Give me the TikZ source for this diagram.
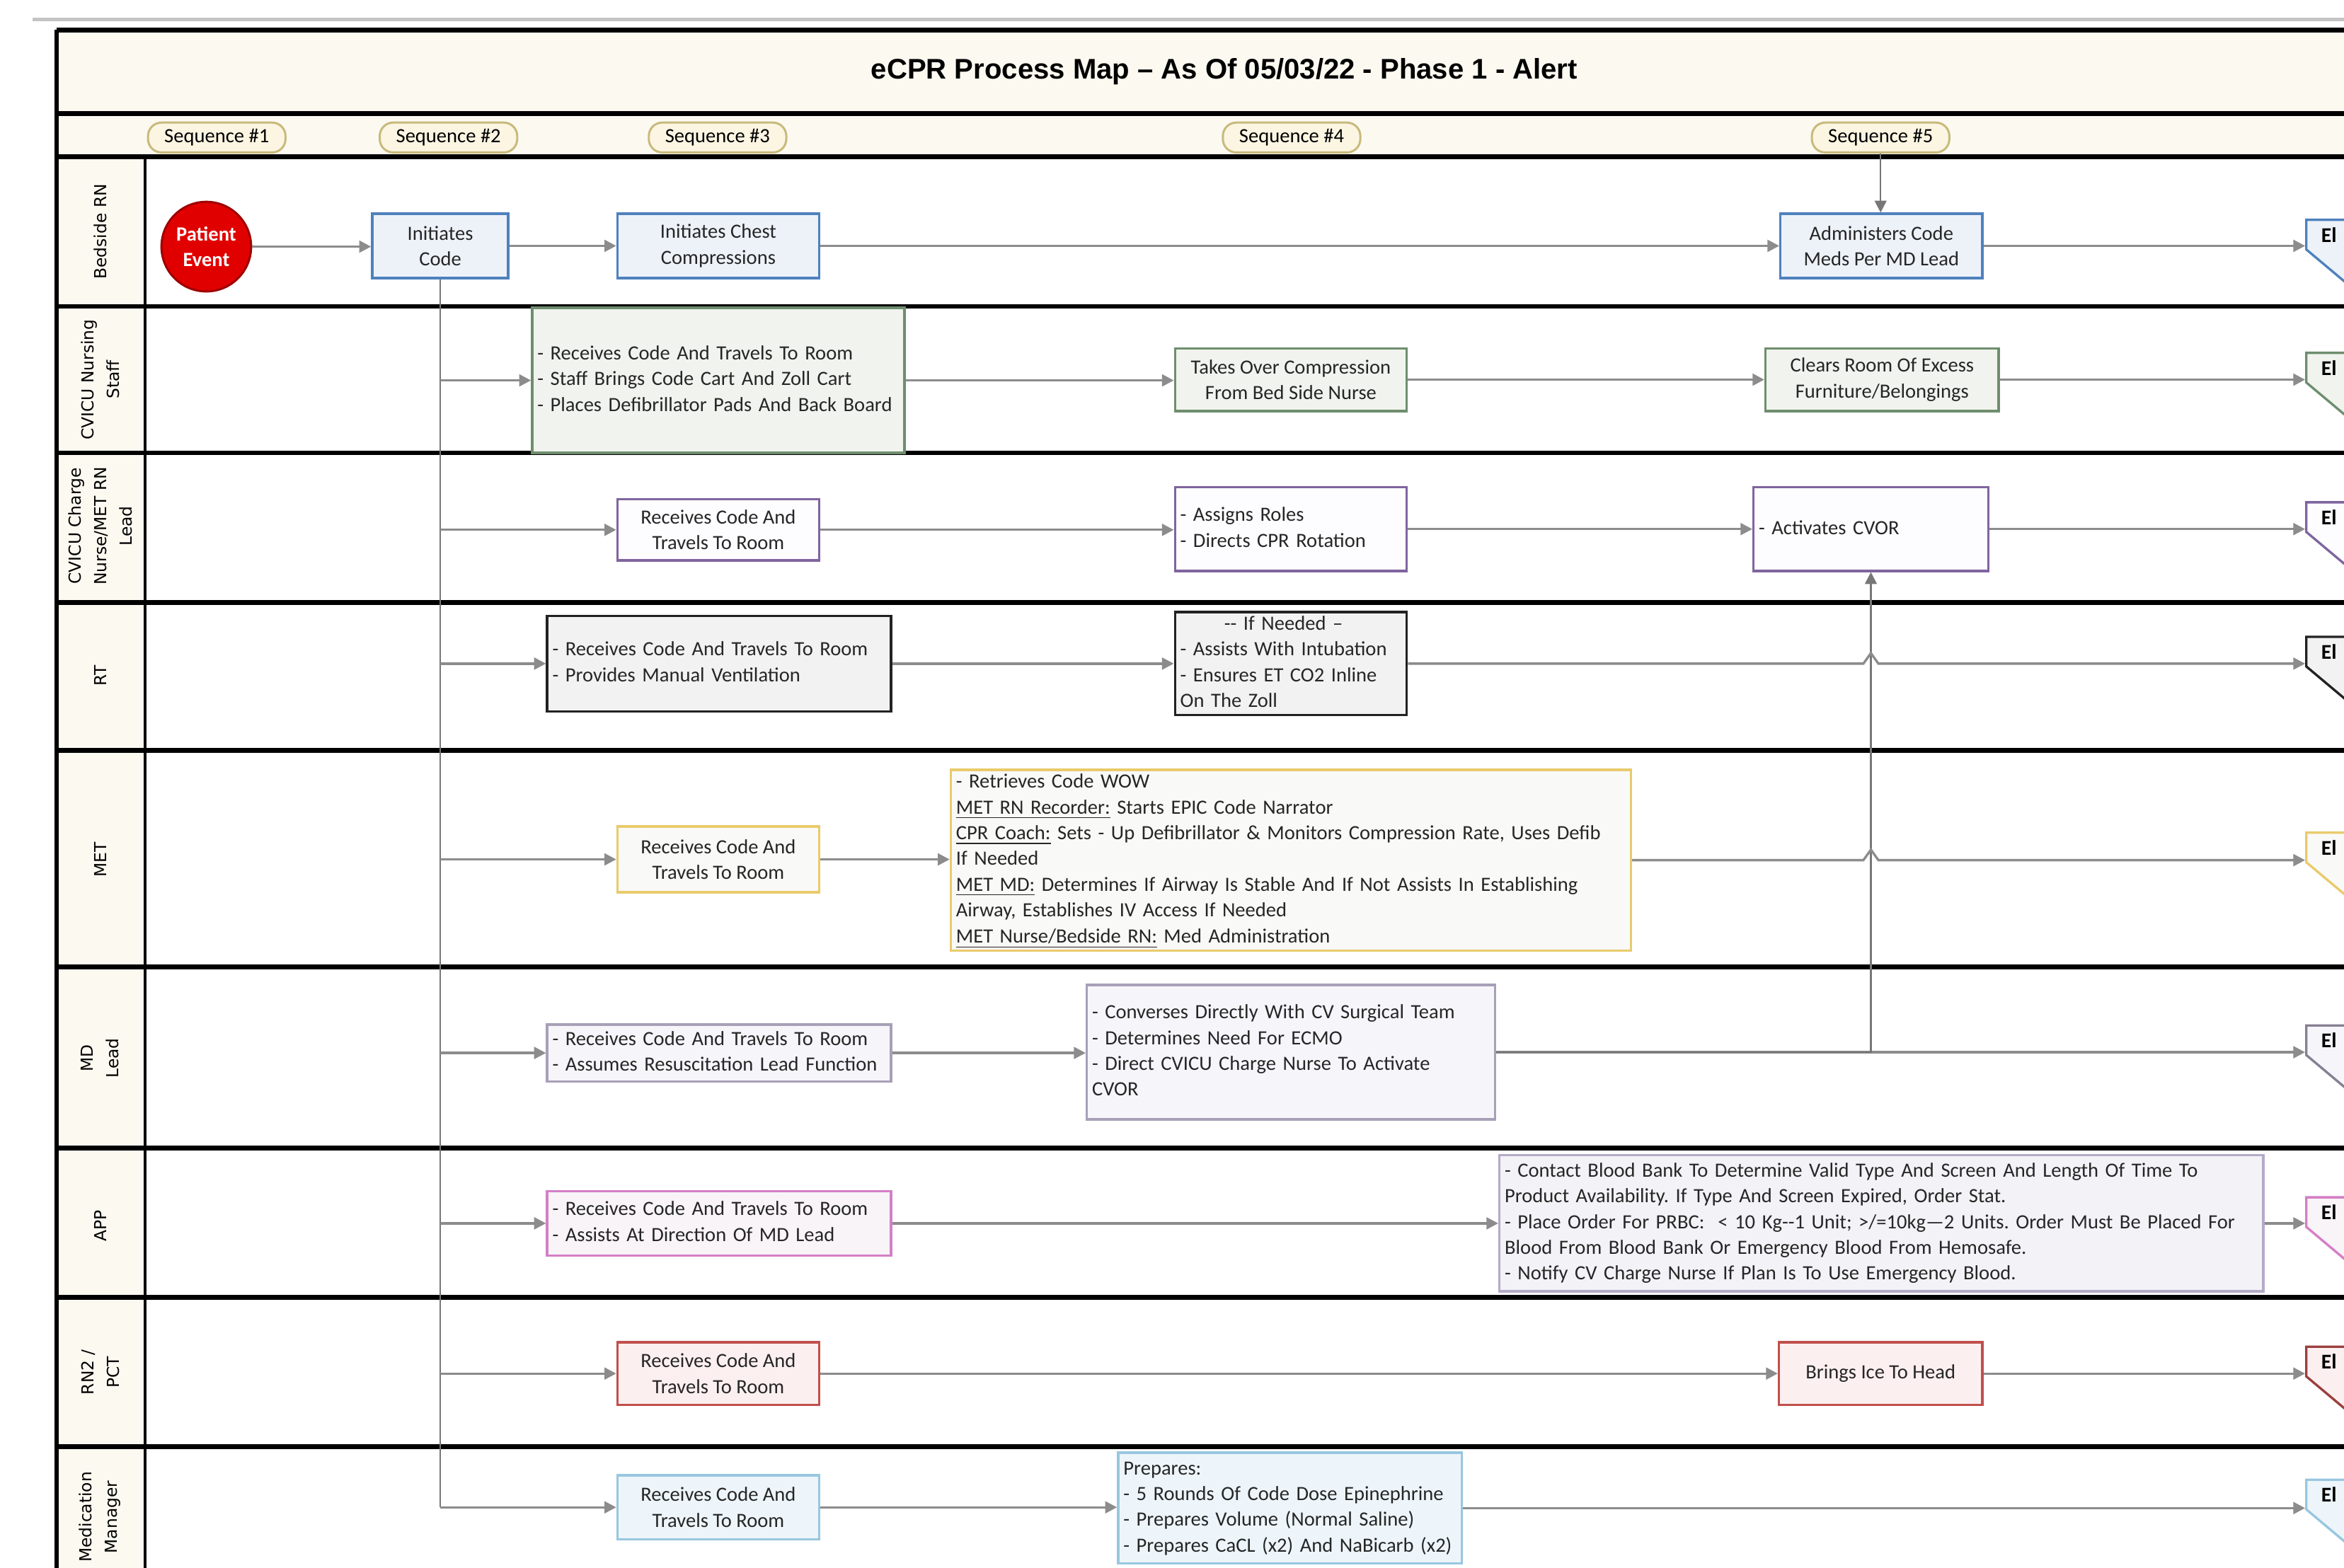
\documentclass[tikz,border=0pt]{standalone}
\usepackage{fontspec}
\setmainfont{Carlito}
\newfontfamily\lanefont{DejaVu Sans}
\newfontfamily\titlefont{Liberation Sans}
\usetikzlibrary{arrows.meta,positioning,calc,shapes.symbols}
\frenchspacing

\definecolor{bedline}{HTML}{4F81BD}
\definecolor{bedfill}{HTML}{EDF2F9}
\definecolor{stfline}{HTML}{6E8E6E}
\definecolor{stffill}{HTML}{F1F3EE}
\definecolor{chgline}{HTML}{7F659F}
\definecolor{chgfill}{HTML}{FDFCFE}
\definecolor{rtline}{HTML}{222222}
\definecolor{rtfill}{HTML}{F2F2F2}
\definecolor{metline}{HTML}{E9CB6B}
\definecolor{metfill}{HTML}{F9F9F8}
\definecolor{mdline}{HTML}{A8A0B8}
\definecolor{mdfill}{HTML}{F6F5F9}
\definecolor{appline}{HTML}{D47FC6}
\definecolor{appfill}{HTML}{F8F4F8}
\definecolor{apptwo}{HTML}{B5AAC6}
\definecolor{apptwofill}{HTML}{F3F2F6}
\definecolor{rnline}{HTML}{C0504D}
\definecolor{rnfill}{HTML}{FCEFEF}
\definecolor{medline}{HTML}{98C7DF}
\definecolor{medfill}{HTML}{EDF5FA}
\definecolor{flowgrey}{HTML}{8C8C8C}
\definecolor{trunkgrey}{HTML}{777777}
\definecolor{cream}{HTML}{FCF9F1}
\definecolor{pillline}{HTML}{C8BA7C}
\definecolor{pillfill}{HTML}{FBF5E2}
\definecolor{pered}{HTML}{E00000}
\definecolor{pedark}{HTML}{9E0000}
\definecolor{topgrey}{HTML}{C4C4C4}

\newcommand{\cellfont}{\fontsize{7.7}{9.8}\selectfont}
\newcommand{\rows}[1]{\begin{tabular}{@{}l@{}}#1\end{tabular}}

\begin{document}
\begin{tikzpicture}[x=0.02cm, y=-0.02cm, >={Triangle[length=4.5pt,width=4.5pt]},
  every node/.append style={align=center},
  box/.style={draw, line width=0.9pt, inner xsep=2pt, inner ysep=1pt, font=\cellfont, text=black!85},
  lbox/.style={text width=#1, align=left},
  bed/.style={box, draw=bedline, fill=bedfill},
  stf/.style={box, draw=stfline, fill=stffill},
  chg/.style={box, draw=chgline, fill=chgfill},
  rt/.style={box, draw=rtline, fill=rtfill},
  met/.style={box, draw=metline, fill=metfill},
  md/.style={box, draw=mdline, fill=mdfill},
  app/.style={box, draw=appline, fill=appfill},
  rn/.style={box, draw=rnline, fill=rnfill},
  med/.style={box, draw=medline, fill=medfill},
  pill/.style={draw=pillline, fill=pillfill, line width=0.8pt, rounded corners=0.18cm,
    minimum width=1.84cm, minimum height=0.4cm, inner sep=0pt, font=\cellfont},
  lanelbl/.style={rotate=90, font=\lanefont\fontsize{6.3}{9.7}\selectfont},
  offp/.style={signal, signal to=south, signal pointer angle=100, line width=0.9pt,
    text width=0.72cm, inner xsep=0.2cm, inner ysep=0.1cm, align=left, anchor=west,
    font=\bfseries\fontsize{8}{9}\selectfont},
  flow/.style={draw=flowgrey, line width=0.9pt, ->},
  thin/.style={draw=trunkgrey, line width=0.55pt}]

\path[clip, use as bounding box] (0,0) rectangle (1568,1049);
\fill[white] (0,0) rectangle (1568,1049);

% frame, bands and lanes
\fill[cream] (38,20) rectangle (1580,105);
\fill[cream] (38,105) rectangle (97,1060);
\draw[topgrey, line width=1.1pt] (22,13) -- (1580,13);
\foreach \y in {20,76,105,205,303,403,502,647,768,868,968}
  \draw[line width=1.8pt] (38,\y) -- (1580,\y);
\draw[line width=1.5pt] (38,20) -- (38,1060);
\draw[line width=1.2pt] (97,105) -- (97,1060);

\node[font=\titlefont\bfseries\fontsize{10.8}{13}\selectfont] (ttl) at (819,48)
  {eCPR Process Map – As Of 05/03/22 - Phase 1 - Alert};

\foreach \n/\x in {1/145,2/300,3/480,4/864,5/1258}
  \node[pill] (q\n) at (\x,92) {Sequence \#\n};

\foreach \t/\y [count=\i] in {{Bedside RN}/155, {CVICU Nursing\\Staff}/254,
    {CVICU Charge\\Nurse/MET RN\\Lead}/352, {RT}/452, {MET}/575, {MD\\Lead}/708,
    {APP}/820, {RN2 /\\PCT}/918, {Medication\\Manager}/1015}
  \node[lanelbl] (lane\i) at (67,\y) {\t};

% Bedside RN
\node[circle, fill=pered, draw=pedark, line width=0.8pt, minimum size=1.2cm, inner sep=0pt,
  text=white, font=\bfseries\cellfont] (pe) at (138,165) {Patient\\Event};
\node[bed, minimum width=1.82cm, minimum height=0.86cm] (ic) at (294.5,164.5) {Initiates\\Code};
\node[bed, minimum width=2.7cm, minimum height=0.86cm] (cc) at (480.5,164.5) {Initiates Chest\\Compressions};
\node[bed, minimum width=2.7cm, minimum height=0.86cm] (am) at (1258.5,164.5) {Administers Code\\Meds Per MD Lead};
\node[offp, draw=bedline, fill=bedfill] (pg1) at (1542,157) {El};

% CVICU nursing staff
\node[stf, lbox=4.84cm, minimum height=1.94cm] (s1) at (480.5,254.5)
  {\rows{- Receives Code And Travels To Room\\- Staff Brings Code Cart And Zoll Cart\\- Places Defibrillator Pads And Back Board}};
\node[stf, minimum width=3.1cm, minimum height=0.84cm] (s2) at (863.5,254) {Takes Over Compression\\From Bed Side Nurse};
\node[stf, minimum width=3.12cm, minimum height=0.84cm] (s3) at (1259,254) {Clears Room Of Excess\\Furniture/Belongings};
\node[offp, draw=stfline, fill=stffill] (pg2) at (1542,246) {El};

% charge nurse
\node[chg, minimum width=2.7cm, minimum height=0.82cm] (c1) at (480.5,354.5) {Receives Code And\\Travels To Room};
\node[chg, lbox=2.96cm, minimum height=1.12cm] (c2) at (863.5,354) {\rows{- Assigns Roles\\- Directs CPR Rotation}};
\node[chg, lbox=3.0cm, minimum height=1.12cm] (c3) at (1251.5,354) {\rows{- Activates CVOR}};
\node[offp, draw=chgline, fill=chgfill] (pg3) at (1542,346) {El};

% RT
\node[rt, lbox=4.46cm, minimum height=1.28cm] (r1) at (481,444)
  {\rows{- Receives Code And Travels To Room\\- Provides Manual Ventilation}};
\node[rt, lbox=2.96cm, minimum height=1.28cm, inner ysep=0pt] (r2) at (863.5,444)
  {\rows{\multicolumn{1}{@{}c@{}}{-{}- If Needed --}\\- Assists With Intubation\\- Ensures ET CO2 Inline\\On The Zoll}};
\node[offp, draw=rtline, fill=rtfill] (pg4) at (1542,436) {El};

% MET
\node[met, minimum width=2.7cm, minimum height=0.88cm] (m1) at (480.5,575) {Receives Code And\\Travels To Room};
\node[met, lbox=8.96cm, minimum height=2.42cm, inner ysep=0pt] (m2) at (863.5,575.5)
  {\rows{- Retrieves Code WOW\\
   \underline{MET RN Recorder:} Starts EPIC Code Narrator\\
   \underline{CPR Coach:} Sets - Up Defibrillator \& Monitors Compression Rate, Uses Defib\\
   If Needed\\
   \underline{MET MD:} Determines If Airway Is Stable And If Not Assists In Establishing\\
   Airway, Establishes IV Access If Needed\\
   \underline{MET Nurse/Bedside RN:} Med Administration}};
\node[offp, draw=metline, fill=metfill] (pg5) at (1542,567) {El};

% MD lead
\node[md, lbox=4.46cm, minimum height=0.74cm] (d1) at (481,704.5)
  {\rows{- Receives Code And Travels To Room\\- Assumes Resuscitation Lead Function}};
\node[md, lbox=5.32cm, minimum height=1.8cm] (d2) at (863.5,704)
  {\rows{- Converses Directly With CV Surgical Team\\- Determines Need For ECMO\\- Direct CVICU Charge Nurse To Activate\\CVOR}};
\node[offp, draw=mdline!80!black, fill=mdfill] (pg6) at (1542,696) {El};

% APP
\node[app, lbox=4.46cm, minimum height=0.86cm] (a1) at (481,818.5)
  {\rows{- Receives Code And Travels To Room\\- Assists At Direction Of MD Lead}};
\node[box, draw=apptwo, fill=apptwofill, lbox=10.08cm, minimum height=1.82cm] (a2) at (1258.5,818.5)
  {\rows{- Contact Blood Bank To Determine Valid Type And Screen And Length Of Time To\\
   Product Availability. If Type And Screen Expired, Order Stat.\\
   - Place Order For PRBC: \ < 10 Kg-{}-1 Unit; >/=10kg—2 Units. Order Must Be Placed For\\
   Blood From Blood Bank Or Emergency Blood From Hemosafe.\\
   - Notify CV Charge Nurse If Plan Is To Use Emergency Blood.}};
\node[offp, draw=appline, fill=appfill] (pg7) at (1542,811) {El};

% RN2 / PCT
\node[rn, minimum width=2.7cm, minimum height=0.84cm] (n1) at (480.5,919) {Receives Code And\\Travels To Room};
\node[rn, minimum width=2.72cm, minimum height=0.84cm] (n2) at (1258,919) {Brings Ice To Head};
\node[offp, draw=rnline!80!black, fill=rnfill] (pg8) at (1542,911) {El};

% medication manager
\node[med, minimum width=2.7cm, minimum height=0.86cm] (e1) at (480.5,1008.5) {Receives Code And\\Travels To Room};
\node[med, lbox=4.46cm, minimum height=1.48cm] (e2) at (863,1009)
  {\rows{Prepares:\\- 5 Rounds Of Code Dose Epinephrine\\- Prepares Volume (Normal Saline)\\- Prepares CaCL (x2) And NaBicarb (x2)}};
\node[offp, draw=medline, fill=medfill] (pg9) at (1542,1000) {El};

% connectors
\draw[thin, ->] (q5) -- (q5 |- am.north);
\draw[thin] (ic) -- (ic |- e1);
\foreach \b in {s1,c1,r1,m1,d1,a1,n1,e1}
  \draw[flow] (ic |- \b) -- (\b);
\foreach \a/\b in {pe/ic, ic/cc, cc/am, s1/s2, s2/s3, c1/c2, c2/c3, r1/r2, m1/m2, d1/d2, a1/a2, n1/n2, e1/e2}
  \draw[flow] (\a) -- (\a -| \b.west);
\foreach \a/\b in {am/pg1, s3/pg2, c3/pg3, d2/pg6, a2/pg7, n2/pg8, e2/pg9}
  \draw[flow] (\a) -- (\a -| \b.west);
\draw[thin, ->] (d2) -| (c3);
% line hops over the CVOR line
\foreach \a/\b in {r2/pg4, m2/pg5}
  \draw[flow] (\a) -- ($(\a -| c3)+(-5,0)$) -- ($(\a -| c3)+(0,-7)$) -- ($(\a -| c3)+(5,0)$) -- (\a -| \b.west);
\end{tikzpicture}
\end{document}
